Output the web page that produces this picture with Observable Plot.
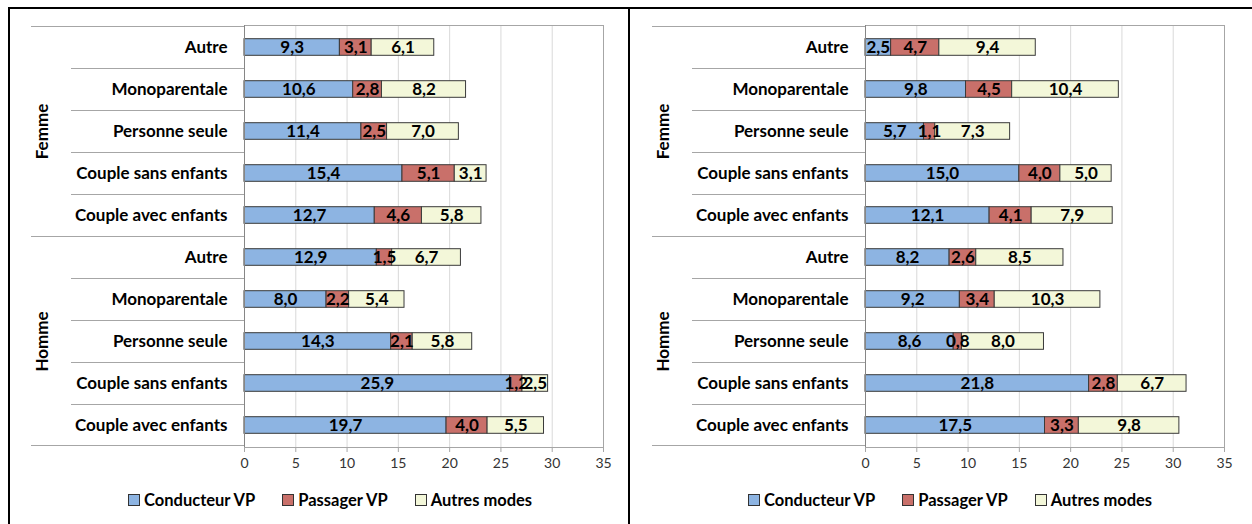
<!DOCTYPE html>
<html><head><meta charset="utf-8">
<script src="https://cdn.jsdelivr.net/npm/d3@7"></script>
<script src="https://cdn.jsdelivr.net/npm/@observablehq/plot@0.6"></script>
<style>
body{margin:0;background:#fff;font-family:Lato,sans-serif;}
#wrap{position:relative;width:1252px;height:524px;overflow:hidden;background:#fff;}
.border{position:absolute;background:#000;}
.panel{position:absolute;top:0;}
.legend{position:absolute;top:490px;display:flex;align-items:center;font:700 16.5px Lato,sans-serif;color:#000;white-space:nowrap;}
.legend .item{display:flex;align-items:center;margin-right:27px;}
.legend .sw{width:10px;height:10px;border:1px solid #333;margin-right:4px;}
</style></head><body>
<div id="wrap">
<div id="p1" class="panel" style="left:0"></div>
<div id="p2" class="panel" style="left:630px"></div>
<div id="l1" class="legend" style="left:128px"></div>
<div id="l2" class="legend" style="left:748px"></div>
<div class="border" style="left:8px;top:7px;width:1244px;height:2px"></div>
<div class="border" style="left:8px;top:7px;width:2px;height:517px"></div>
<div class="border" style="left:628px;top:7px;width:2px;height:517px"></div>
</div>
<script>
const groups = ["Femme", "Homme"];
const categories = ["Autre", "Monoparentale", "Personne seule", "Couple sans enfants", "Couple avec enfants"];
const modes = ["Conducteur VP", "Passager VP", "Autres modes"];
const colors = ["#8db4e2", "#c9706a", "#f3f7d9"];
const xTicks = [0, 5, 10, 15, 20, 25, 30, 35];

// order: Femme (Autre..Couple avec enfants), then Homme (Autre..Couple avec enfants)
const leftConducteur = [9.3, 10.6, 11.4, 15.4, 12.7, 12.9, 8.0, 14.3, 25.9, 19.7];
const leftPassager   = [3.1, 2.8, 2.5, 5.1, 4.6, 1.5, 2.2, 2.1, 1.2, 4.0];
const leftAutres     = [6.1, 8.2, 7.0, 3.1, 5.8, 6.7, 5.4, 5.8, 2.5, 5.5];

const rightConducteur = [2.5, 9.8, 5.7, 15.0, 12.1, 8.2, 9.2, 8.6, 21.8, 17.5];
const rightPassager   = [4.7, 4.5, 1.1, 4.0, 4.1, 2.6, 3.4, 0.8, 2.8, 3.3];
const rightAutres     = [9.4, 10.4, 7.3, 5.0, 7.9, 8.5, 10.3, 8.0, 6.7, 9.8];

const fmt = v => v.toFixed(1).replace(".", ",");

function rows(series) {
  const out = [];
  groups.forEach((g, gi) => categories.forEach((c, ci) => modes.forEach((m, mi) =>
    out.push({key: g + "|" + c, group: g, cat: c, mode: m, value: series[mi][gi * categories.length + ci]}))));
  return out;
}

function draw(el, series, width, ml, mr) {
  const data = rows(series);
  const keys = groups.flatMap(g => categories.map(c => g + "|" + c));
  const chart = Plot.plot({
    width, height: 482, marginLeft: ml, marginRight: mr, marginTop: 25, marginBottom: 35,
    style: {fontFamily: "Lato, sans-serif", background: "transparent", overflow: "visible", color: "#000"},
    x: {domain: [0, 35]},
    y: {domain: keys, padding: 0},
    color: {domain: modes, range: colors},
    marks: [
      Plot.gridX(xTicks, {stroke: "#d9d9d9", strokeOpacity: 1}),
      Plot.frame({stroke: "#a6a6a6"}),
      Plot.barX(data, Plot.stackX({y: "key", x: "value", fill: "mode", order: modes,
        stroke: "#3a3a3a", strokeWidth: 1, insetTop: 12.7, insetBottom: 12.7})),
      Plot.ruleX([0], {stroke: "#868686"}),
      Plot.text(data, Plot.stackX({y: "key", x: "value", z: "mode", order: modes,
        text: d => fmt(d.value), fontSize: 17, fontWeight: 700, fill: "#000"})),
      Plot.axisX(xTicks, {tickSize: 5, tickPadding: 6, stroke: "#a6a6a6", fill: "#333", fontSize: 14, label: null}),
      Plot.axisY({tickSize: 0, tickPadding: 17, tickFormat: k => k.split("|")[1],
        fontSize: 17, fontWeight: 700, label: null}),
      Plot.text(groups, {y: g => g + "|Personne seule", frameAnchor: "left", textAnchor: "middle", dx: -202, rotate: -90,
        fontSize: 17, fontWeight: 700, text: d => d, fill: "#000"})
    ]
  });
  // category separators in the axis area, positioned through the y scale
  const ys = chart.scale("y");
  const svg = d3.select(chart);
  const step = ys.step ?? ys.bandwidth;
  keys.forEach((k, i) => {
    const y0 = ys.apply(k);
    svg.append("line").attr("x1", i % categories.length === 0 ? ml - 213 : ml - 173).attr("x2", ml)
      .attr("y1", y0 + 0.5).attr("y2", y0 + 0.5).attr("stroke", "#a6a6a6");
  });
  const yEnd = ys.apply(keys[keys.length - 1]) + step;
  svg.append("line").attr("x1", ml - 213).attr("x2", ml).attr("y1", yEnd - 0.5).attr("y2", yEnd - 0.5).attr("stroke", "#a6a6a6");
  document.getElementById(el).append(chart);
}

function legend(el) {
  const box = d3.select("#" + el);
  modes.forEach((m, i) => {
    const it = box.append("div").attr("class", "item");
    it.append("div").attr("class", "sw").style("background", colors[i]);
    it.append("span").text(m);
  });
}

draw("p1", [leftConducteur, leftPassager, leftAutres], 629, 244, 26);
draw("p2", [rightConducteur, rightPassager, rightAutres], 622, 235, 28);
legend("l1");
legend("l2");
</script>
</body></html>
